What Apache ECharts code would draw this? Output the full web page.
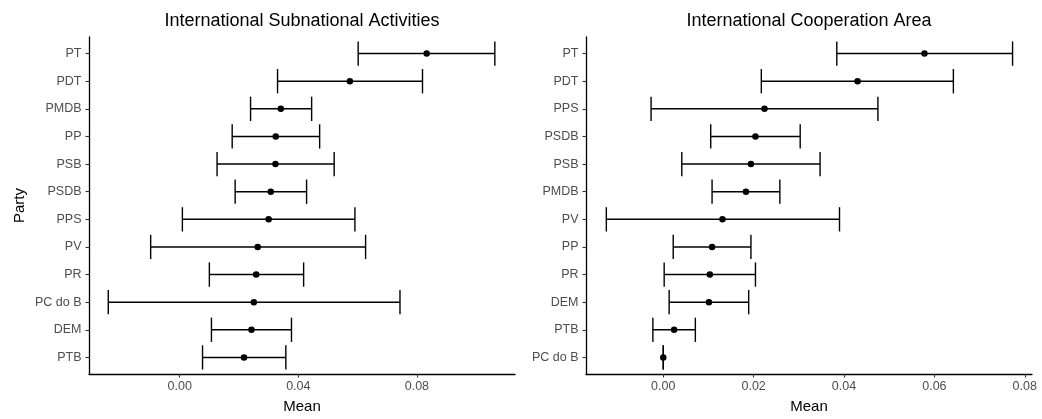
<!DOCTYPE html>
<html><head><meta charset="utf-8">
<script src="https://cdn.jsdelivr.net/npm/echarts@6/dist/echarts.min.js"></script>
<style>html,body{margin:0;padding:0;background:#fff}#c{width:1042px;height:419px}</style>
</head><body><div id="c"></div>
<script>
// Left panel: International Subnational Activities
const leftParties = ['PT','PDT','PMDB','PP','PSB','PSDB','PPS','PV','PR','PC do B','DEM','PTB'];
const leftMean  = [0.0833, 0.0574, 0.0341, 0.0324, 0.0323, 0.0307, 0.0300, 0.0263, 0.0258, 0.0250, 0.0242, 0.0217];
const leftLower = [0.0602, 0.0330, 0.0239, 0.0177, 0.0126, 0.0187, 0.0009, -0.0098, 0.0100, -0.0241, 0.0107, 0.0077];
const leftUpper = [0.1063, 0.0819, 0.0445, 0.0472, 0.0521, 0.0428, 0.0591, 0.0627, 0.0418, 0.0743, 0.0377, 0.0358];
const leftTicks = [0, 0.04, 0.08];

// Right panel: International Cooperation Area
const rightParties = ['PT','PDT','PPS','PSDB','PSB','PMDB','PV','PP','PR','DEM','PTB','PC do B'];
const rightMean  = [0.0578, 0.0430, 0.0224, 0.0204, 0.0194, 0.0183, 0.0131, 0.0108, 0.0103, 0.0101, 0.0024, 0.0000];
const rightLower = [0.0384, 0.0217, -0.0027, 0.0105, 0.0041, 0.0108, -0.0126, 0.0022, 0.0002, 0.0013, -0.0023, 0.0000];
const rightUpper = [0.0773, 0.0642, 0.0475, 0.0303, 0.0347, 0.0258, 0.0390, 0.0194, 0.0204, 0.0189, 0.0071, 0.0000];
const rightTicks = [0, 0.02, 0.04, 0.06, 0.08];

const titles = ['International Subnational Activities', 'International Cooperation Area'];

const FONT = '"Liberation Sans", Arial, sans-serif';
const idx = leftParties.map((_, i) => i);

function barData(lower, upper) { return lower.map((l, i) => [l, i, upper[i]]); }
function ptData(mean) { return mean.map((m, i) => [m, i]); }

function renderBar(params, api) {
  const y = api.value(1);
  const p1 = api.coord([api.value(0), y]);
  const p2 = api.coord([api.value(2), y]);
  const h = api.size([0, 1])[1] * 0.44;
  const st = { stroke: '#000', lineWidth: 1.4 };
  return { type: 'group', children: [
    { type: 'line', shape: { x1: p1[0], y1: p1[1], x2: p2[0], y2: p2[1] }, style: st },
    { type: 'line', shape: { x1: p1[0], y1: p1[1] - h, x2: p1[0], y2: p1[1] + h }, style: st },
    { type: 'line', shape: { x1: p2[0], y1: p2[1] - h, x2: p2[0], y2: p2[1] + h }, style: st }
  ]};
}

function xAxis(gi, min, max, ticks) {
  return {
    type: 'value', gridIndex: gi, min: min, max: max,
    name: 'Mean', nameLocation: 'middle', nameGap: 25,
    nameTextStyle: { color: '#000', fontSize: 15, fontFamily: FONT },
    splitLine: { show: false },
    axisLine: { show: true, onZero: false, lineStyle: { color: '#000', width: 1.3 } },
    axisTick: { show: true, length: 3.5, customValues: ticks, lineStyle: { color: '#333', width: 1.1 } },
    axisLabel: { customValues: ticks, color: '#4d4d4d', fontSize: 12.5, fontFamily: FONT, margin: 6.5,
      formatter: v => v.toFixed(2) }
  };
}
function yAxis(gi, parties, withName) {
  return {
    type: 'value', gridIndex: gi, inverse: true, min: -0.6, max: 11.6,
    name: withName ? 'Party' : '', nameLocation: 'middle', nameGap: 62, nameRotate: 90,
    nameTextStyle: { color: '#000', fontSize: 15, fontFamily: FONT },
    splitLine: { show: false },
    axisLine: { show: true, onZero: false, lineStyle: { color: '#000', width: 1.3 } },
    axisTick: { show: true, length: 3.5, customValues: idx, lineStyle: { color: '#333', width: 1.1 } },
    axisLabel: { customValues: idx, color: '#4d4d4d', fontSize: 12.5, fontFamily: FONT, margin: 7.5,
      formatter: v => parties[Math.round(v)] }
  };
}

const chart = echarts.init(document.getElementById('c'), null, { renderer: 'canvas' });
chart.setOption({
  animation: false,
  backgroundColor: '#fff',
  grid: [
    { left: 89, top: 37, width: 426, height: 340 },
    { left: 586, top: 37, width: 446, height: 340 }
  ],
  xAxis: [xAxis(0, -0.0306, 0.1131, leftTicks), xAxis(1, -0.0171, 0.0816, rightTicks)],
  yAxis: [yAxis(0, leftParties, true), yAxis(1, rightParties, false)],
  graphic: [
    { type: 'text', x: 302, y: 21.5, style: { text: titles[0], fill: '#000', font: '18px ' + FONT, align: 'center', verticalAlign: 'middle' } },
    { type: 'text', x: 809, y: 21.5, style: { text: titles[1], fill: '#000', font: '18px ' + FONT, align: 'center', verticalAlign: 'middle' } }
  ],
  series: [
    { type: 'custom', xAxisIndex: 0, yAxisIndex: 0, renderItem: renderBar, data: barData(leftLower, leftUpper), encode: { x: [0, 2], y: 1 } },
    { type: 'scatter', xAxisIndex: 0, yAxisIndex: 0, symbolSize: 6.5, itemStyle: { color: '#000', opacity: 1 }, data: ptData(leftMean), z: 5 },
    { type: 'custom', xAxisIndex: 1, yAxisIndex: 1, renderItem: renderBar, data: barData(rightLower, rightUpper), encode: { x: [0, 2], y: 1 } },
    { type: 'scatter', xAxisIndex: 1, yAxisIndex: 1, symbolSize: 6.5, itemStyle: { color: '#000', opacity: 1 }, data: ptData(rightMean), z: 5 }
  ]
});
</script>
</body></html>
